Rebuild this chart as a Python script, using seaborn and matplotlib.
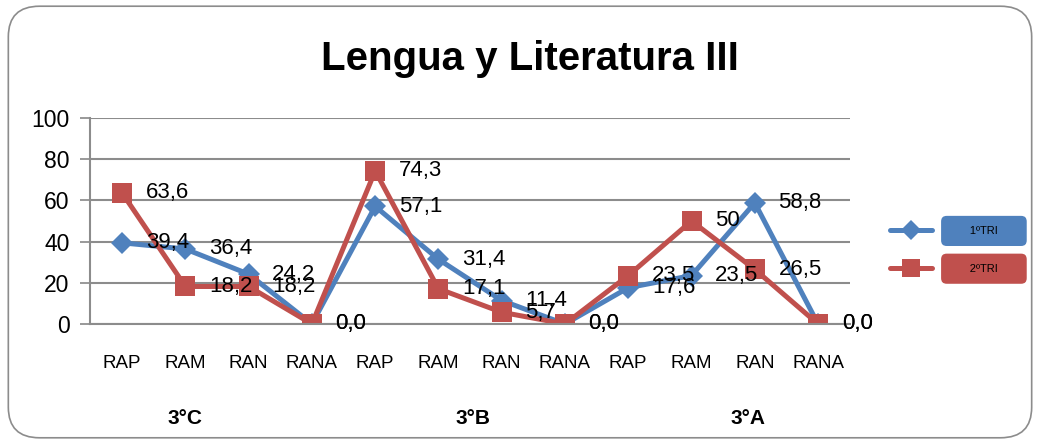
import matplotlib
matplotlib.use("Agg")
import matplotlib.pyplot as plt
import seaborn as sns
import pandas as pd
from matplotlib.lines import Line2D
from matplotlib.patches import FancyBboxPatch

categorias = ["RAP", "RAM", "RAN", "RANA"] * 3
grupos = ["3°C", "3°B", "3°A"]
series = ["1ºTRI", "2ºTRI"]
tri1 = [39.4, 36.4, 24.2, 0.0, 57.1, 31.4, 11.4, 0.0, 17.6, 23.5, 58.8, 0.0]
tri2 = [63.6, 18.2, 18.2, 0.0, 74.3, 17.1, 5.7, 0.0, 23.5, 50.0, 26.5, 0.0]
etiquetas1 = ["39,4", "36,4", "24,2", "0,0", "57,1", "31,4", "11,4", "0,0", "17,6", "23,5", "58,8", "0,0"]
etiquetas2 = ["63,6", "18,2", "18,2", "0,0", "74,3", "17,1", "5,7", "0,0", "23,5", "50", "26,5", "0,0"]

AZUL = "#4F81BD"
ROJO = "#C0504D"

df = pd.DataFrame({
    "pos": list(range(12)) * 2,
    "valor": tri1 + tri2,
    "serie": [series[0]] * 12 + [series[1]] * 12,
})

sns.set_style("white")
plt.rcParams["font.family"] = ["Liberation Sans", "DejaVu Sans"]
plt.rcParams["text.color"] = "black"
plt.rcParams["xtick.labelcolor"] = "black"
plt.rcParams["ytick.labelcolor"] = "black"

fig = plt.figure(figsize=(10.4, 4.44), dpi=100)
ax = fig.add_axes([0.087, 0.2703, 0.73, 0.4640])

sns.lineplot(data=df, x="pos", y="valor", hue="serie", style="serie",
             palette={series[0]: AZUL, series[1]: ROJO},
             markers={series[0]: "D", series[1]: "s"}, dashes=False,
             markersize=12, linewidth=3.6, markeredgewidth=0, ax=ax, legend=False)
# marcadores algo distintos por serie
ax.lines[0].set_markersize(11)
ax.lines[1].set_markersize(15)

for i in range(12):
    ax.annotate(etiquetas1[i], (i, tri1[i]), xytext=(17, 0), textcoords="offset points",
                ha="left", va="center", fontsize=16)
    ax.annotate(etiquetas2[i], (i, tri2[i]), xytext=(17, 0), textcoords="offset points",
                ha="left", va="center", fontsize=16)

ax.set_xlim(-0.5, 11.5)
ax.set_ylim(0, 100)
ax.set_yticks(range(0, 101, 20))
ax.set_xticks(range(12))
ax.set_xticklabels(categorias, fontsize=13.5)
ax.set_xticks([i + 0.5 for i in range(-1, 12)], minor=True)
ax.tick_params(axis="x", which="major", length=0, pad=22)
ax.tick_params(axis="x", which="minor", length=8, color="#888888", direction="out", width=1.2)
ax.tick_params(axis="y", length=7, color="#888888", width=1.2, labelsize=16.5, pad=8, left=True)
ax.set_xlabel("")
ax.set_ylabel("")
ax.grid(axis="y", color="#8c8c8c", linewidth=1.5)
ax.set_axisbelow(True)
for s in ["top", "right"]:
    ax.spines[s].set_visible(False)
for s in ["left", "bottom"]:
    ax.spines[s].set_color("#8c8c8c")
    ax.spines[s].set_linewidth(1.5)

for g, xg in zip(grupos, [1.0, 5.55, 9.9]):
    ax.text(xg, -0.46, g, transform=ax.get_xaxis_transform(), ha="center", va="center",
            fontsize=15, fontweight="bold")

fig.text(0.51, 0.868, "Lengua y Literatura III", ha="center", va="center",
         fontsize=29, fontweight="bold")

# leyenda
handles = [Line2D([], [], color=AZUL, marker="D", markersize=10, linewidth=3.6, markeredgewidth=0),
           Line2D([], [], color=ROJO, marker="s", markersize=13, linewidth=3.6, markeredgewidth=0)]
leg = ax.legend(handles, series, loc="center left", bbox_to_anchor=(1.04, 0.36),
                frameon=False, handlelength=3.8, handletextpad=1.7, labelspacing=2.5,
                prop={"size": 8})
for t, c in zip(leg.get_texts(), [AZUL, ROJO]):
    t.set_text("      " + t.get_text() + "      ")
    t.set_bbox(dict(boxstyle="round,pad=1.0,rounding_size=0.6", facecolor=c,
                    edgecolor="white", linewidth=1.5))

borde = FancyBboxPatch((0.008, 0.014), 0.984, 0.972, boxstyle="round,pad=0,rounding_size=0.03",
                       transform=fig.transFigure, facecolor="none", edgecolor="#8c8c8c",
                       linewidth=1.2, mutation_aspect=2.3)
fig.patches.append(borde)

fig.savefig("out.png", dpi=100)
